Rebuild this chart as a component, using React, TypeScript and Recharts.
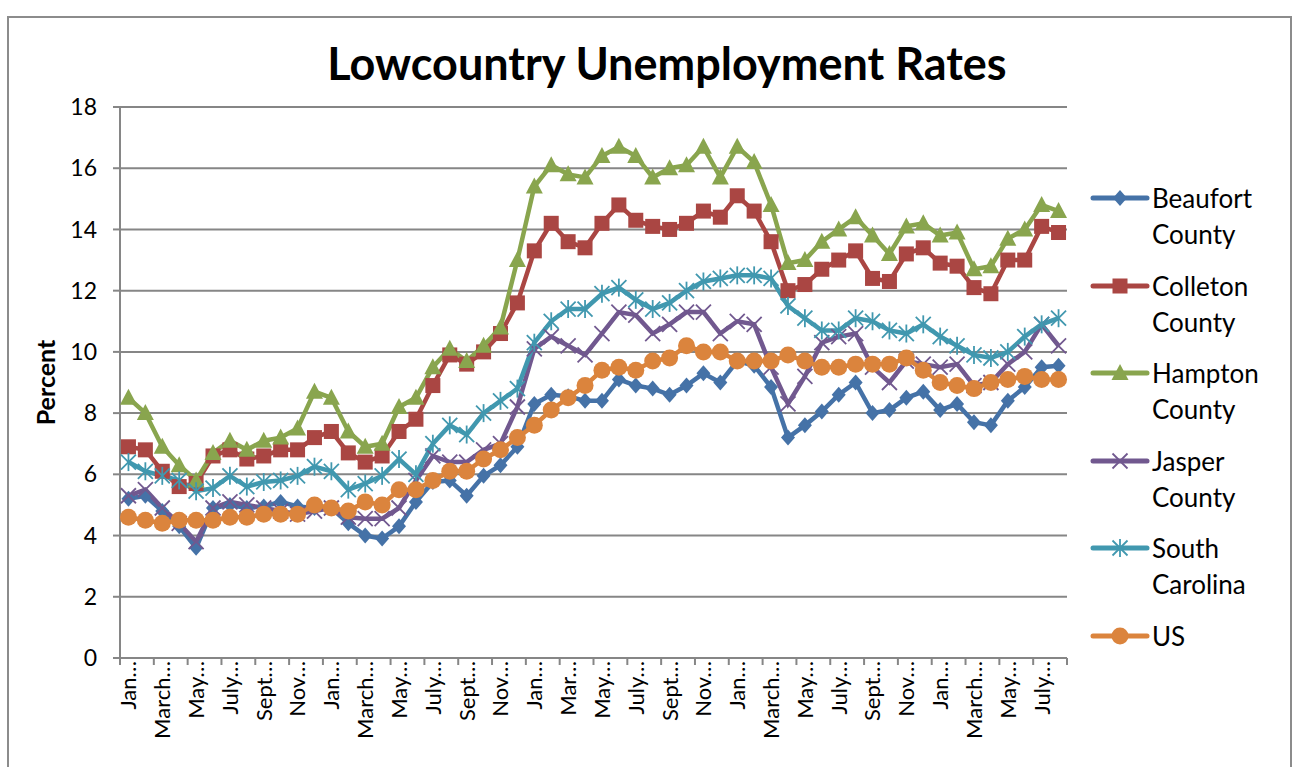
import { CartesianGrid, Legend, Line, LineChart, XAxis, YAxis } from 'recharts';

const months = [
	'Jan…', 'Feb…', 'March…', 'April…', 'May…', 'June…', 'July…', 'Aug…', 'Sept…', 'Oct…', 'Nov…', 'Dec…',
	'Jan…', 'Feb…', 'March…', 'April…', 'May…', 'June…', 'July…', 'Aug…', 'Sept…', 'Oct…', 'Nov…', 'Dec…',
	'Jan…', 'Feb…', 'Mar…', 'Apr…', 'May…', 'June…', 'July…', 'Aug…', 'Sept…', 'Oct…', 'Nov…', 'Dec…',
	'Jan…', 'Feb…', 'March…', 'April…', 'May…', 'June…', 'July…', 'Aug…', 'Sept…', 'Oct…', 'Nov…', 'Dec…',
	'Jan…', 'Feb…', 'March…', 'April…', 'May…', 'June…', 'July…', 'Aug…',
];

const beaufort = [
	5.2, 5.3, 4.8, 4.3, 3.6, 4.9, 5.0, 4.9, 4.95, 5.1, 4.95, 4.9, 4.9, 4.4, 4.0, 3.9, 4.3, 5.1, 5.75, 5.8,
	5.3, 5.95, 6.3, 6.9, 8.3, 8.6, 8.55, 8.4, 8.4, 9.1, 8.9, 8.8, 8.6, 8.9, 9.3, 9.0, 9.7, 9.55, 8.85, 7.2,
	7.6, 8.05, 8.6, 9.0, 8.0, 8.1, 8.5, 8.7, 8.1, 8.3, 7.7, 7.6, 8.4, 8.85, 9.5, 9.55,
];
const colleton = [
	6.9, 6.8, 6.1, 5.6, 5.7, 6.6, 6.8, 6.5, 6.6, 6.8, 6.8, 7.2, 7.4, 6.7, 6.4, 6.6, 7.4, 7.8, 8.9, 9.9,
	9.6, 10.0, 10.6, 11.6, 13.3, 14.2, 13.6, 13.4, 14.2, 14.8, 14.3, 14.1, 14.0, 14.2, 14.6, 14.4, 15.1, 14.6, 13.6, 12.0,
	12.2, 12.7, 13.0, 13.3, 12.4, 12.3, 13.2, 13.4, 12.9, 12.8, 12.1, 11.9, 13.0, 13.0, 14.1, 13.9,
];
const hampton = [
	8.5, 8.0, 6.9, 6.3, 5.8, 6.7, 7.1, 6.8, 7.1, 7.2, 7.5, 8.7, 8.5, 7.4, 6.9, 7.0, 8.2, 8.5, 9.5, 10.1,
	9.7, 10.2, 10.8, 13.0, 15.4, 16.1, 15.8, 15.7, 16.4, 16.7, 16.4, 15.7, 16.0, 16.1, 16.7, 15.7, 16.7, 16.2, 14.8, 12.9,
	13.0, 13.6, 14.0, 14.4, 13.8, 13.2, 14.1, 14.2, 13.8, 13.9, 12.7, 12.8, 13.7, 14.0, 14.8, 14.6,
];
const jasper = [
	5.3, 5.5, 4.9, 4.4, 3.8, 4.9, 5.1, 5.0, 4.9, 4.8, 4.7, 4.8, 4.9, 4.6, 4.55, 4.55, 4.9, 5.8, 6.6, 6.4,
	6.4, 6.8, 7.0, 8.2, 10.1, 10.5, 10.2, 9.9, 10.6, 11.3, 11.2, 10.6, 10.9, 11.3, 11.3, 10.6, 11.0, 10.9, 9.5, 8.3,
	9.2, 10.3, 10.5, 10.6, 9.5, 9.0, 9.7, 9.6, 9.5, 9.6, 8.9, 9.0, 9.6, 10.0, 10.9, 10.2,
];
const southCarolina = [
	6.4, 6.1, 5.95, 5.8, 5.45, 5.55, 5.95, 5.6, 5.75, 5.8, 5.95, 6.25, 6.1, 5.5, 5.7, 5.95, 6.5, 6.0, 7.0, 7.6,
	7.3, 8.0, 8.4, 8.8, 10.3, 11.0, 11.4, 11.4, 11.9, 12.1, 11.7, 11.4, 11.6, 12.0, 12.3, 12.4, 12.5, 12.5, 12.4, 11.5,
	11.1, 10.7, 10.7, 11.1, 11.0, 10.7, 10.6, 10.9, 10.5, 10.2, 9.9, 9.8, 10.0, 10.5, 10.9, 11.1,
];
const us = [
	4.6, 4.5, 4.4, 4.5, 4.5, 4.5, 4.6, 4.6, 4.7, 4.7, 4.7, 5.0, 4.9, 4.8, 5.1, 5.0, 5.5, 5.5, 5.8, 6.1,
	6.1, 6.5, 6.8, 7.2, 7.6, 8.1, 8.5, 8.9, 9.4, 9.5, 9.4, 9.7, 9.8, 10.2, 10.0, 10.0, 9.7, 9.7, 9.7, 9.9,
	9.7, 9.5, 9.5, 9.6, 9.6, 9.6, 9.8, 9.4, 9.0, 8.9, 8.8, 9.0, 9.1, 9.2, 9.1, 9.1,
];

const yTicks = [0, 2, 4, 6, 8, 10, 12, 14, 16, 18];

const series = [
	{ key: 'beaufort', name: 'Beaufort County', color: '#4572A7', shape: 'diamond' },
	{ key: 'colleton', name: 'Colleton County', color: '#AA4643', shape: 'square' },
	{ key: 'hampton', name: 'Hampton County', color: '#89A54E', shape: 'triangle' },
	{ key: 'jasper', name: 'Jasper County', color: '#71588F', shape: 'x' },
	{ key: 'sc', name: 'South Carolina', color: '#4198AF', shape: 'star' },
	{ key: 'us', name: 'US', color: '#DB843D', shape: 'circle' },
];

const data = months.map((month, i) => ({
	month,
	beaufort: beaufort[i],
	colleton: colleton[i],
	hampton: hampton[i],
	jasper: jasper[i],
	sc: southCarolina[i],
	us: us[i],
}));

const W = 1299;
const H = 767;
const PLOT_LEFT = 120;
const PLOT_RIGHT = 1067;
const STEP = (PLOT_RIGHT - PLOT_LEFT) / months.length;
const GRAY = '#868686';
const FONT = 'Lato, "Open Sans", sans-serif';

function Marker({ shape, cx, cy, color }: { shape: string; cx: number; cy: number; color: string }) {
	switch (shape) {
		case 'diamond':
			return <polygon points={`${cx},${cy - 8} ${cx + 7},${cy} ${cx},${cy + 8} ${cx - 7},${cy}`} fill={color} />;
		case 'square':
			return <rect x={cx - 7.5} y={cy - 7.5} width={15} height={15} fill={color} />;
		case 'triangle':
			return <polygon points={`${cx},${cy - 9} ${cx + 8.5},${cy + 7} ${cx - 8.5},${cy + 7}`} fill={color} />;
		case 'x':
			return (
				<g stroke={color} strokeWidth={1.8}>
					<line x1={cx - 7.5} y1={cy - 7.5} x2={cx + 7.5} y2={cy + 7.5} />
					<line x1={cx - 7.5} y1={cy + 7.5} x2={cx + 7.5} y2={cy - 7.5} />
				</g>
			);
		case 'star':
			return (
				<g stroke={color} strokeWidth={1.8}>
					<line x1={cx - 7.5} y1={cy - 7.5} x2={cx + 7.5} y2={cy + 7.5} />
					<line x1={cx - 7.5} y1={cy + 7.5} x2={cx + 7.5} y2={cy - 7.5} />
					<line x1={cx} y1={cy - 9} x2={cx} y2={cy + 9} />
				</g>
			);
		default:
			return <circle cx={cx} cy={cy} r={8.5} fill={color} />;
	}
}

function XTick(props: any) {
	const { x, y, payload } = props;
	const bx = x - STEP / 2;
	const isLast = payload.index + 2 >= months.length;
	return (
		<g>
			<line x1={bx} y1={y} x2={bx} y2={y + 7} stroke={GRAY} strokeWidth={2} />
			{isLast && <line x1={bx + 2 * STEP} y1={y} x2={bx + 2 * STEP} y2={y + 7} stroke={GRAY} strokeWidth={2} />}
			<text
				x={x}
				y={y + 3}
				dy="0.36em"
				transform={`rotate(-90 ${x} ${y + 3})`}
				textAnchor="end"
				fontSize={22}
				fill="#000"
			>
				{payload.value}
			</text>
		</g>
	);
}

function LegendContent({ payload }: any) {
	return (
		<div style={{ fontFamily: FONT }}>
			{(payload || []).map((entry: any) => {
				const s = series.find((d) => d.key === entry.dataKey) || series[0];
				return (
					<div key={s.key} style={{ display: 'flex', alignItems: 'flex-start', marginBottom: 15.5 }}>
						<svg width={62} height={36} style={{ flex: 'none' }}>
							<line x1={3} y1={18} x2={57} y2={18} stroke={s.color} strokeWidth={5} strokeLinecap="round" />
							<Marker shape={s.shape} cx={30} cy={18} color={s.color} />
						</svg>
						<div style={{ fontSize: 26, lineHeight: '36px', width: 130, color: '#000' }}>{s.name}</div>
					</div>
				);
			})}
		</div>
	);
}

export default function App() {
	return (
		<div
			style={{
				position: 'absolute',
				left: 0,
				top: 0,
				width: W,
				height: H,
				overflow: 'hidden',
				background: '#fff',
				fontFamily: FONT,
			}}
		>
			<svg width={W} height={H} style={{ position: 'absolute', left: 0, top: 0 }}>
				<rect x={8} y={17} width={1283} height={800} fill="none" stroke="#8c8c8c" strokeWidth={2} />
				<text x={667} y={80} textAnchor="middle" fontSize={45} fontWeight={700} fill="#000">
					Lowcountry Unemployment Rates
				</text>
			</svg>
			<div style={{ position: 'absolute', left: 0, top: 0 }}>
				<LineChart width={W} height={H} data={data} margin={{ top: 107, right: W - PLOT_RIGHT, bottom: 9, left: 0 }}>
					<CartesianGrid vertical={false} stroke={GRAY} strokeWidth={2} />
					<XAxis
						dataKey="month"
						interval={1}
						height={100}
						padding={{ left: STEP / 2, right: STEP / 2 }}
						tickLine={false}
						tickSize={0}
						tickMargin={0}
						axisLine={{ stroke: GRAY, strokeWidth: 2 }}
						tick={<XTick />}
					/>
					<YAxis
						width={120}
						domain={[0, 18]}
						ticks={yTicks}
						interval={0}
						tickSize={7}
						tickMargin={16}
						axisLine={{ stroke: GRAY, strokeWidth: 2 }}
						tickLine={{ stroke: GRAY, strokeWidth: 2 }}
						tick={{ fill: '#000', fontSize: 23 }}
						label={{ value: 'Percent', angle: -90, position: 'center', dx: -14, fill: '#000', fontSize: 25, fontWeight: 700 }}
					/>
					<Legend
						layout="vertical"
						align="center"
						verticalAlign="middle"
						content={<LegendContent />}
						wrapperStyle={{ left: 1090, top: 180, width: 200 }}
					/>
					{series.map((s) => (
						<Line
							key={s.key}
							type="linear"
							dataKey={s.key}
							name={s.name}
							stroke={s.color}
							strokeWidth={4.5}
							isAnimationActive={false}
							dot={(p: any) => (
								<g key={`${s.key}-${p.index}`}>
									<Marker shape={s.shape} cx={p.cx} cy={p.cy} color={s.color} />
								</g>
							)}
							activeDot={false}
						/>
					))}
				</LineChart>
			</div>
		</div>
	);
}
